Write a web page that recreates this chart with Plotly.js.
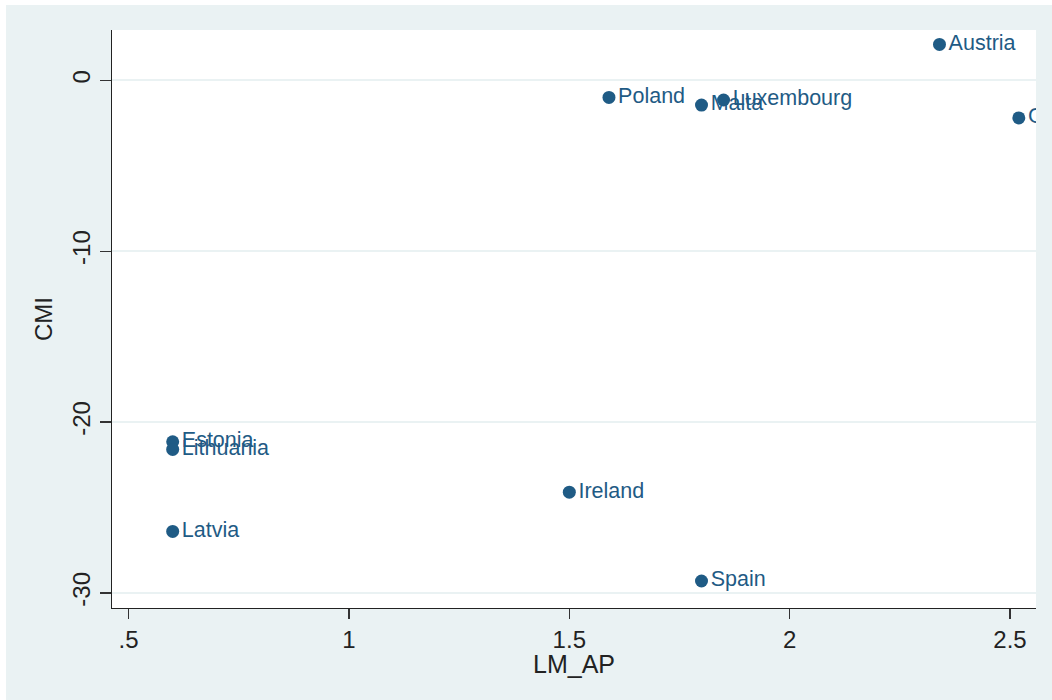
<!DOCTYPE html>
<html>
<head>
<meta charset="utf-8">
<script src="https://cdn.plot.ly/plotly-3.0.1.min.js"></script>
<style>
  html, body { margin: 0; padding: 0; background: #ffffff; }
  #chart { position: absolute; left: 6px; top: 5px; width: 1046px; height: 695px; }
</style>
</head>
<body>
<div id="chart"></div>
<script>
// Country scatter: labour-market score (LM_AP) against CMI
const countries = ["Austria", "Germany", "Poland", "Malta", "Luxembourg",
                   "Estonia", "Lithuania", "Latvia", "Ireland", "Spain"];
const lmAP = [2.34, 2.52, 1.59, 1.80, 1.85, 0.60, 0.60, 0.60, 1.50, 1.80];
const cmi  = [2.1, -2.2, -1.0, -1.45, -1.15, -21.15, -21.6, -26.4, -24.1, -29.3];

const xTickVals = [0.5, 1, 1.5, 2, 2.5];
const xTickText = [".5", "1", "1.5", "2", "2.5"];
const yTickVals = [0, -10, -20, -30];
const yTickText = ["0", "-10", "-20", "-30"];

const navy = "#1f5b85";
const bg = "#eaf2f3";
const font = "Liberation Sans, Arial, Helvetica, sans-serif";

const trace = {
  type: "scatter",
  mode: "markers+text",
  x: lmAP,
  y: cmi,
  text: countries,
  textposition: "middle right",
  textfont: { family: font, size: 21.5, color: navy },
  marker: { color: navy, size: 13, line: { width: 0 } },
  cliponaxis: true,
  hoverinfo: "x+y+text"
};

const layout = {
  width: 1046,
  height: 695,
  paper_bgcolor: bg,
  plot_bgcolor: "#ffffff",
  margin: { l: 106, r: 16, t: 25, b: 92, pad: 0 },
  showlegend: false,
  font: { family: font, color: "#222222" },
  xaxis: {
    range: [0.4623, 2.559],
    tickvals: xTickVals,
    ticktext: xTickText,
    ticks: "outside",
    ticklen: 10,
    tickwidth: 1.2,
    tickcolor: "#333333",
    tickfont: { family: font, size: 24, color: "#222222" },
    showgrid: false,
    zeroline: false,
    showline: true,
    linecolor: "#222222",
    linewidth: 1.3
  },
  yaxis: {
    range: [-30.88, 2.945],
    tickvals: yTickVals,
    ticktext: yTickText,
    tickangle: -90,
    ticks: "outside",
    ticklen: 11,
    tickwidth: 1.2,
    tickcolor: "#333333",
    tickfont: { family: font, size: 24, color: "#222222" },
    showgrid: true,
    gridcolor: bg,
    gridwidth: 2,
    zeroline: false,
    showline: true,
    linecolor: "#222222",
    linewidth: 1.3,
    title: { text: "CMI", font: { family: font, size: 24, color: "#222222" }, standoff: 8 }
  },
  annotations: [{
    // x-axis title, placed just below the tick labels
    text: "LM_AP",
    xref: "paper", yref: "paper",
    x: 0.5, y: 0,
    xanchor: "center", yanchor: "middle",
    yshift: -56,
    showarrow: false,
    font: { family: font, size: 25, color: "#222222" }
  }]
};

Plotly.newPlot("chart", [trace], layout, { displayModeBar: false, staticPlot: true });
</script>
</body>
</html>
